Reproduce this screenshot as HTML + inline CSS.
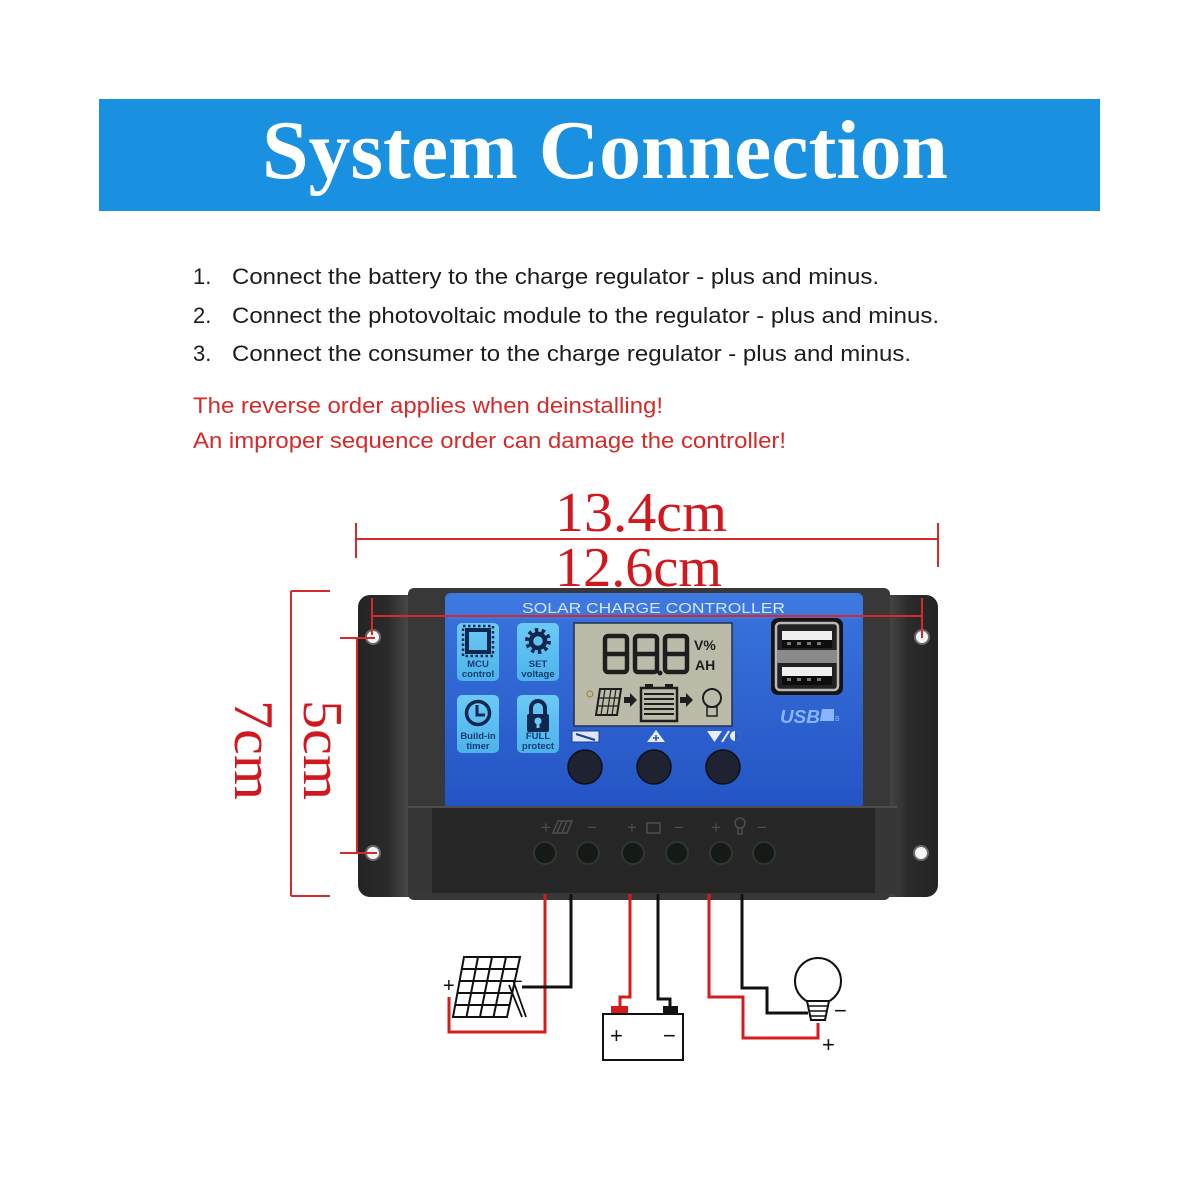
<!DOCTYPE html>
<html><head><meta charset="utf-8"><style>
html,body{margin:0;padding:0;background:#fff;}
svg{display:block;}
</style></head><body>
<svg width="1200" height="1200" viewBox="0 0 1200 1200" xmlns="http://www.w3.org/2000/svg">
<defs>
<linearGradient id="blue" x1="0" y1="0" x2="0" y2="1">
<stop offset="0" stop-color="#3a74de"/><stop offset="1" stop-color="#2454c4"/>
</linearGradient>
<linearGradient id="flange" x1="0" y1="0" x2="1" y2="0">
<stop offset="0" stop-color="#242424"/><stop offset="0.05" stop-color="#2a2a2a"/><stop offset="0.09" stop-color="#4a4a4a"/><stop offset="0.14" stop-color="#3a3a3a"/>
<stop offset="0.86" stop-color="#3a3a3a"/><stop offset="0.91" stop-color="#4a4a4a"/><stop offset="0.95" stop-color="#2a2a2a"/><stop offset="1" stop-color="#242424"/>
</linearGradient>
<linearGradient id="icon" x1="0" y1="0" x2="0" y2="1">
<stop offset="0" stop-color="#6ccaf7"/><stop offset="1" stop-color="#4bb3ea"/>
</linearGradient>
</defs>
<rect width="1200" height="1200" fill="#fff"/>

<!-- Banner -->
<rect x="99" y="99" width="1001" height="112" fill="#1a90e0"/>
<text x="262" y="178" font-family="Liberation Serif, serif" font-weight="bold" font-size="84" fill="#fff" textLength="686" lengthAdjust="spacingAndGlyphs">System Connection</text>

<!-- Instructions -->
<g font-family="Liberation Sans, Arial, sans-serif" font-size="22" fill="#1c1c1c">
<text x="193" y="284">1.</text>
<text x="232" y="284" textLength="647" lengthAdjust="spacingAndGlyphs">Connect the battery to the charge regulator - plus and minus.</text>
<text x="193" y="323">2.</text>
<text x="232" y="323" textLength="707" lengthAdjust="spacingAndGlyphs">Connect the photovoltaic module to the regulator - plus and minus.</text>
<text x="193" y="361">3.</text>
<text x="232" y="361" textLength="679" lengthAdjust="spacingAndGlyphs">Connect the consumer to the charge regulator - plus and minus.</text>
</g>
<g font-family="Liberation Sans, Arial, sans-serif" font-size="22" fill="#d42a2a">
<text x="193" y="413" textLength="470" lengthAdjust="spacingAndGlyphs">The reverse order applies when deinstalling!</text>
<text x="193" y="448" textLength="593" lengthAdjust="spacingAndGlyphs">An improper sequence order can damage the controller!</text>
</g>

<!-- Dimension texts -->
<g font-family="Liberation Serif, serif" font-size="56" fill="#d0181e">
<text x="555" y="531" textLength="172" lengthAdjust="spacingAndGlyphs">13.4cm</text>
<text x="555" y="586" textLength="167" lengthAdjust="spacingAndGlyphs">12.6cm</text>
<text transform="translate(235,700) rotate(90)" textLength="100" lengthAdjust="spacingAndGlyphs">7cm</text>
<text transform="translate(304,700) rotate(90)" textLength="100" lengthAdjust="spacingAndGlyphs">5cm</text>
</g>
<g stroke="#d42a2a" stroke-width="2" fill="none">
<path d="M356 539 H938 M356 523 V558 M938 523 V567"/>
<path d="M291 591 V896 M291 591 H330 M291 896 H330"/>
</g>

<!-- Controller body -->
<rect x="358" y="595" width="580" height="302" rx="12" fill="url(#flange)"/>
<rect x="408" y="588" width="482" height="312" rx="6" fill="#383838"/>
<rect x="445" y="593" width="418" height="216" rx="6" fill="url(#blue)"/>
<rect x="445" y="593" width="418" height="26" rx="6" fill="#3c78e0"/>
<text x="522" y="613" font-family="Liberation Sans, Arial, sans-serif" font-size="15" fill="#d6e4ff" textLength="263" lengthAdjust="spacingAndGlyphs">SOLAR CHARGE CONTROLLER</text>

<!-- Holes -->
<g fill="#f4f4f4" stroke="#6a6a6a" stroke-width="2">
<circle cx="373" cy="637" r="7"/>
<circle cx="922" cy="637" r="7"/>
<circle cx="373" cy="853" r="7"/>
<circle cx="921" cy="853" r="7"/>
</g>

<!-- Icons -->
<g>
<rect x="457" y="623" width="42" height="58" rx="5" fill="url(#icon)"/>
<rect x="517" y="623" width="42" height="58" rx="5" fill="url(#icon)"/>
<rect x="457" y="695" width="42" height="58" rx="5" fill="url(#icon)"/>
<rect x="517" y="695" width="42" height="58" rx="5" fill="url(#icon)"/>
<!-- chip -->
<rect x="467" y="630" width="22" height="22" fill="none" stroke="#10284f" stroke-width="4"/>
<rect x="463" y="626" width="30" height="30" fill="none" stroke="#10284f" stroke-width="2.5" stroke-dasharray="2.5,2.5"/>
<!-- gear -->
<circle cx="538" cy="641" r="7" fill="none" stroke="#10284f" stroke-width="4.5"/>
<circle cx="538" cy="641" r="11" fill="none" stroke="#10284f" stroke-width="4" stroke-dasharray="3.5,3.4"/>
<!-- clock -->
<circle cx="478" cy="713" r="11.5" fill="none" stroke="#10284f" stroke-width="3.5"/>
<path d="M477 705 V715 H485" fill="none" stroke="#10284f" stroke-width="3"/>
<!-- lock -->
<path d="M531 716 V708 A7 7 0 0 1 545 708 V716" fill="none" stroke="#10284f" stroke-width="4"/>
<rect x="527" y="714" width="22" height="18" rx="2" fill="#10284f"/>
<circle cx="538" cy="721" r="3.5" fill="#6ccaf7"/>
<rect x="536.5" y="722" width="3" height="6" fill="#6ccaf7"/>
<g font-family="Liberation Sans, Arial, sans-serif" font-weight="bold" font-size="9.5" fill="#173a75" text-anchor="middle">
<text x="478" y="667">MCU</text><text x="478" y="677">control</text>
<text x="538" y="667">SET</text><text x="538" y="677">voltage</text>
<text x="478" y="739">Build-in</text><text x="478" y="749">timer</text>
<text x="538" y="739">FULL</text><text x="538" y="749">protect</text>
</g>
</g>

<!-- LCD -->
<rect x="574" y="623" width="158" height="103" fill="#bcbbaa" stroke="#203050" stroke-width="1.5"/>
<g fill="none" stroke="#1e1e1e" stroke-width="4.5" stroke-linejoin="round">
<rect x="605" y="636" width="22" height="36" rx="3"/><path d="M605 654 H627"/>
<rect x="635" y="636" width="22" height="36" rx="3"/><path d="M635 654 H657"/>
<rect x="665" y="636" width="22" height="36" rx="3"/><path d="M665 654 H687"/>
</g>
<circle cx="660" cy="673" r="2.5" fill="#1e1e1e"/>
<g font-family="Liberation Sans, Arial, sans-serif" font-weight="bold" font-size="14" fill="#1e1e1e">
<text x="694" y="650">V%</text><text x="695" y="670">AH</text>
</g>
<!-- LCD bottom icons -->
<circle cx="590" cy="694" r="3" fill="none" stroke="#a07a30" stroke-width="1"/>
<path d="M600 689 H621 L617 715 H596 Z" fill="none" stroke="#1e1e1e" stroke-width="2"/>
<path d="M605 689 L601 715 M611 689 L607 715 M616 689 L612 715 M599 698 H620 M598 706 H619" stroke="#1e1e1e" stroke-width="1.2"/>
<path d="M624 697 H630 V693 L637 700 L630 707 V703 H624 Z" fill="#1e1e1e"/>
<rect x="641" y="688" width="36" height="33" fill="none" stroke="#1e1e1e" stroke-width="2.5"/>
<rect x="645" y="684" width="8" height="4" fill="#1e1e1e"/><rect x="665" y="684" width="8" height="4" fill="#1e1e1e"/>
<path d="M644 694 H674 M644 699 H674 M644 704 H674 M644 709 H674 M644 714 H674" stroke="#1e1e1e" stroke-width="2"/>
<path d="M680 697 H686 V693 L693 700 L686 707 V703 H680 Z" fill="#1e1e1e"/>
<circle cx="712" cy="698" r="9" fill="none" stroke="#1e1e1e" stroke-width="2"/>
<rect x="707" y="707" width="10" height="9" fill="none" stroke="#1e1e1e" stroke-width="1.5"/>

<!-- Button labels -->
<rect x="572" y="731" width="27" height="11" fill="#dbe6ff" stroke="#1d3e90" stroke-width="1"/>
<path d="M576 734 L595 740" stroke="#1d3e90" stroke-width="2"/>
<path d="M656 730 L665 742 H647 Z" fill="#e6eeff"/>
<path d="M656 735 V741 M653 738 H659" stroke="#2454c4" stroke-width="1.5"/>
<path d="M707 731 H722 L714.5 742 Z" fill="#e6eeff"/>
<path d="M722 742 L729 731" stroke="#e6eeff" stroke-width="2"/>
<circle cx="735" cy="736" r="5" fill="#e6eeff"/>
<path d="M735 731 A5 5 0 0 1 735 741 Z" fill="#2a5bc8"/>

<!-- Buttons -->
<g fill="#1f2230" stroke="#0e1018" stroke-width="1.5">
<circle cx="585" cy="767" r="17"/><circle cx="654" cy="767" r="17"/><circle cx="723" cy="767" r="17"/>
</g>

<!-- USB -->
<rect x="771" y="618" width="72" height="77" rx="7" fill="#141414"/>
<rect x="776" y="623" width="62" height="67" rx="4" fill="#222" stroke="#b8b8b8" stroke-width="2.5"/>
<rect x="782" y="631" width="50" height="9" fill="#efefef"/>
<rect x="782" y="640" width="50" height="8" fill="#0c0c0c"/>
<rect x="777" y="650" width="60" height="13" fill="#8a8a8a"/>
<rect x="782" y="667" width="50" height="9" fill="#efefef"/>
<rect x="782" y="676" width="50" height="9" fill="#0c0c0c"/>
<g fill="#777"><rect x="787" y="642" width="4" height="3"/><rect x="797" y="642" width="4" height="3"/><rect x="807" y="642" width="4" height="3"/><rect x="817" y="642" width="4" height="3"/>
<rect x="787" y="678" width="4" height="3"/><rect x="797" y="678" width="4" height="3"/><rect x="807" y="678" width="4" height="3"/><rect x="817" y="678" width="4" height="3"/></g>
<text x="780" y="723" font-family="Liberation Sans, Arial, sans-serif" font-weight="bold" font-style="italic" font-size="18" fill="#8ab4ff" textLength="40" lengthAdjust="spacingAndGlyphs">USB</text>
<path d="M822 709 H834 V721 H820 Z" fill="#8ab4ff"/>
<text x="835" y="721" font-family="Liberation Sans, Arial, sans-serif" font-size="7" fill="#8ab4ff">B</text>

<!-- Terminal block -->
<rect x="408" y="806" width="489" height="88" rx="3" fill="#363636"/>
<rect x="432" y="807" width="443" height="86" fill="#262626"/>
<path d="M408 807 H897" stroke="#4d4d4d" stroke-width="2"/>
<g font-family="Liberation Sans, Arial, sans-serif" font-size="17" fill="#4f4f4f">
<text x="541" y="833">+</text><text x="587" y="833">−</text>
<text x="627" y="833">+</text><text x="674" y="833">−</text>
<text x="711" y="833">+</text><text x="757" y="833">−</text>
</g>
<path d="M558 821 H572 L567 833 H553 Z M562 821 L557 833 M567 821 L562 833" fill="none" stroke="#4f4f4f" stroke-width="1.5"/>
<rect x="647" y="823" width="13" height="10" fill="none" stroke="#4f4f4f" stroke-width="1.5"/>
<circle cx="740" cy="823" r="5" fill="none" stroke="#4f4f4f" stroke-width="1.5"/>
<path d="M738 828 V834 H742 V828" fill="none" stroke="#4f4f4f" stroke-width="1.5"/>
<g fill="#151a17" stroke="#2f3631" stroke-width="2">
<circle cx="545" cy="853" r="11"/><circle cx="588" cy="853" r="11"/><circle cx="633" cy="853" r="11"/>
<circle cx="677" cy="853" r="11"/><circle cx="721" cy="853" r="11"/><circle cx="764" cy="853" r="11"/>
</g>

<!-- 12.6 and 5cm dimension lines (over controller) -->
<g stroke="#d42a2a" stroke-width="2" fill="none">
<path d="M372 616 H922 M372 598 V635 M922 598 V638"/>
<path d="M357 637 V853 M340 638 H375 M340 853 H377"/>
</g>

<!-- Wires -->
<g fill="none" stroke-width="3" stroke-linejoin="miter">
<path d="M545 894 V1032 H449 V997" stroke="#d41c1c"/>
<path d="M571 894 V987 H522" stroke="#111"/>
<path d="M630 894 V997 H620 V1007" stroke="#d41c1c"/>
<path d="M658 894 V999 H670 V1007" stroke="#111"/>
<path d="M709 894 V997 H743 V1038 H818 V1023" stroke="#d41c1c"/>
<path d="M742 894 V988 H767 V1013 H808" stroke="#111"/>
</g>

<!-- Solar panel -->
<g fill="none" stroke="#111" stroke-width="2">
<path d="M464 957 H520 L507 1017 H453 Z"/>
<path d="M478 957 L466.5 1017 M492 957 L480 1017 M506 957 L493.5 1017"/>
<path d="M461.8 969 H517.4 M459.6 981 H514.8 M457.4 993 H512.2 M455.2 1005 H509.6"/>
<path d="M509 985 L522 1017 M513 980 L526 1017" stroke-width="1.8"/>
</g>
<g font-family="Liberation Sans, Arial, sans-serif" font-size="20" fill="#111">
<text x="443" y="992">+</text>
<text x="511" y="988">−</text>
</g>

<!-- Battery -->
<rect x="611" y="1006" width="17" height="8" fill="#d41c1c"/>
<rect x="663" y="1006" width="15" height="8" fill="#111"/>
<rect x="603" y="1014" width="80" height="46" fill="#fff" stroke="#111" stroke-width="2"/>
<g font-family="Liberation Sans, Arial, sans-serif" font-size="22" fill="#111">
<text x="610" y="1043">+</text>
<text x="663" y="1043">−</text>
</g>

<!-- Bulb -->
<circle cx="818" cy="981" r="23" fill="#fff" stroke="#111" stroke-width="2"/>
<path d="M807 1001 H829 L825 1020 H811 Z" fill="#fff" stroke="#111" stroke-width="2"/>
<path d="M809 1006 H827 M810 1011 H826 M811 1016 H825" stroke="#111" stroke-width="1.5"/>
<g font-family="Liberation Sans, Arial, sans-serif" font-size="22" fill="#111">
<text x="834" y="1018">−</text>
<text x="822" y="1052">+</text>
</g>
</svg>
</body></html>
